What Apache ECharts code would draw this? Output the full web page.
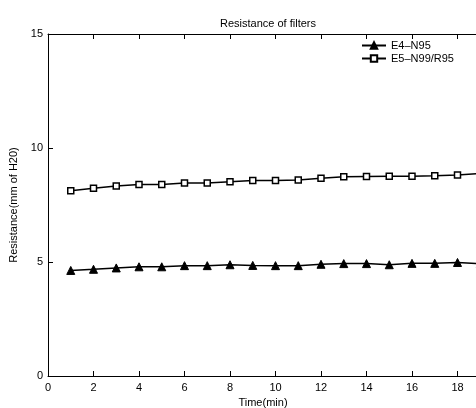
<!DOCTYPE html>
<html><head><meta charset="utf-8">
<script src="https://cdn.jsdelivr.net/npm/echarts@6/dist/echarts.min.js"></script>
<style>html,body{margin:0;padding:0;background:#fff}#c{width:476px;height:408px}</style>
</head><body><div id="c"></div>
<script>
const times = [1,2,3,4,5,6,7,8,9,10,11,12,13,14,15,16,17,18,19];
const e4n95 = [4.63,4.68,4.74,4.79,4.79,4.84,4.84,4.88,4.85,4.84,4.84,4.90,4.93,4.93,4.88,4.94,4.94,4.98,4.92];
const e5n99 = [8.13,8.23,8.33,8.40,8.40,8.46,8.46,8.52,8.57,8.57,8.60,8.67,8.74,8.75,8.76,8.76,8.78,8.82,8.88];
const seriesNames = ['E4\u2013N95','E5\u2013N99/R95'];
const xTicks = [0,2,4,6,8,10,12,14,16,18,20];
const yTicks = [0,5,10,15];

const font = 'Liberation Sans, Arial, sans-serif';
const chart = echarts.init(document.getElementById('c'), null, {renderer:'canvas'});
const axisCommon = {
  axisLine:{show:true,onZero:false,lineStyle:{color:'#000',width:1}},
  axisTick:{show:true,inside:true,length:5,lineStyle:{color:'#000'}},
  splitLine:{show:false}
};
chart.setOption({
  animation:false,
  backgroundColor:'#fff',
  title:{text:'Resistance of filters',left:263,top:13,textAlign:'center',
    textStyle:{fontFamily:font,fontSize:11,fontWeight:'normal',color:'#000'}},
  legend:{orient:'vertical',left:356,top:35,itemWidth:24,itemHeight:8,itemGap:2,
    textStyle:{fontFamily:font,fontSize:11,color:'#000'},data:seriesNames},
  grid:{left:48,top:34,width:455,height:342,outerBoundsMode:'none',containLabel:false},
  xAxis:[
    Object.assign({type:'value',min:xTicks[0],max:xTicks[xTicks.length-1],interval:2,
      name:'Time(min)',nameLocation:'middle',nameGap:16,
      nameTextStyle:{fontFamily:font,fontSize:11,color:'#000',padding:[0,25,0,0]},
      axisLabel:{fontFamily:font,fontSize:11,color:'#000',margin:6,showMaxLabel:true}},axisCommon),
    Object.assign({type:'value',position:'top',min:xTicks[0],max:xTicks[xTicks.length-1],interval:2,
      axisLabel:{show:false}},axisCommon)
  ],
  yAxis:[
    Object.assign({type:'value',min:yTicks[0],max:yTicks[yTicks.length-1],interval:5,
      name:'Resistance(mm of H20)',nameLocation:'middle',nameGap:28,
      nameTextStyle:{fontFamily:font,fontSize:11,color:'#000'},
      axisLabel:{fontFamily:font,fontSize:11,color:'#000',margin:5}},axisCommon),
    Object.assign({type:'value',position:'right',min:yTicks[0],max:yTicks[yTicks.length-1],interval:5,
      axisLabel:{show:false}},axisCommon)
  ],
  series:[
    {name:seriesNames[0],type:'line',data:times.map((t,i)=>[t,e4n95[i]]),
      symbol:'triangle',symbolSize:8,showAllSymbol:true,
      lineStyle:{color:'#000',width:1.5},
      itemStyle:{color:'#000',borderColor:'#000',borderWidth:1}},
    {name:seriesNames[1],type:'line',data:times.map((t,i)=>[t,e5n99[i]]),
      symbol:'rect',symbolSize:6,showAllSymbol:true,
      lineStyle:{color:'#000',width:1.5},
      itemStyle:{color:'#fff',borderColor:'#000',borderWidth:1.5}}
  ]
});
</script></body></html>
